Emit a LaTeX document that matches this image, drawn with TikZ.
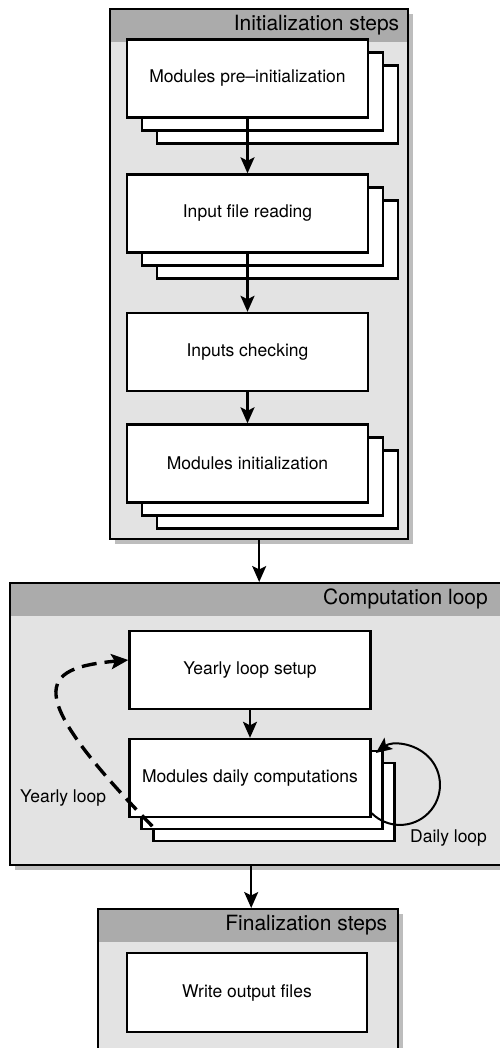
\documentclass[tikz,border=0pt]{standalone}
\usepackage{fontspec}
\setmainfont{TeX Gyre Heros}
\usetikzlibrary{arrows.meta,shadows}
\definecolor{headgray}{HTML}{ABABAB}
\definecolor{bodygray}{HTML}{E3E3E3}
\definecolor{shadowgray}{HTML}{BDBDBD}
\tikzset{
  container/.style={draw=black, line width=2.4pt, fill=bodygray, inner sep=0pt,
    anchor=north west,
    drop shadow={shadow xshift=5pt, shadow yshift=-5pt, fill=shadowgray, opacity=1},
    path picture={\fill[headgray] (path picture bounding box.north west) rectangle ([yshift=-33pt]path picture bounding box.north east);}},
  headtitle/.style={anchor=east, inner sep=0pt, font=\fontsize{21}{25}\selectfont},
  procbox/.style={draw=black, line width=2.4pt, fill=white, inner sep=0pt,
    minimum width=241pt, minimum height=78pt, font=\fontsize{17.5}{21}\selectfont},
  looplabel/.style={inner sep=0pt, font=\fontsize{17.5}{21}\selectfont},
  flow/.style={line width=2.2pt, -{Stealth[length=16pt,width=14pt,inset=3.5pt]}},
  yearflow/.style={line width=3.4pt, dash pattern=on 15pt off 8pt, -{Stealth[length=17pt,width=15pt,inset=3.5pt]}},
  dayflow/.style={line width=2pt, -{Stealth[length=16pt,width=14pt,inset=3.5pt]}}
}
\begin{document}
\begin{tikzpicture}[x=1pt,y=1pt]
\useasboundingbox (0,0) rectangle (499,-1048);

% containers
\node[container, minimum width=298pt, minimum height=530pt] (init) at (109,-8) {};
\node[headtitle] (inittitle) at ([xshift=-10pt,yshift=-17pt]init.north east) {Initialization steps};

\node[container, minimum width=496pt, minimum height=282pt] (comp) at (9,-582) {};
\node[headtitle] (comptitle) at (488,-599) {Computation loop};

\node[container, minimum width=300pt, minimum height=152pt] (final) at (97,-908) {};
\node[headtitle] (finaltitle) at ([xshift=-12pt,yshift=-17pt]final.north east) {Finalization steps};

% initialization boxes
\node[procbox] (b1c3) at (277.5,-104.5) {};
\node[procbox] (b1c2) at (262.5,-91.5) {};
\node[procbox] (b1) at (247.5,-78.5) {Modules pre\textendash initialization};

\node[procbox] (b2c3) at (277.5,-239.5) {};
\node[procbox] (b2c2) at (262.5,-226.5) {};
\node[procbox] (b2) at (247.5,-213.5) {Input file reading};

\node[procbox] (b3) at (247.5,-352) {Inputs checking};

\node[procbox] (b4c3) at (277.5,-489.5) {};
\node[procbox] (b4c2) at (262.5,-476.5) {};
\node[procbox] (b4) at (247.5,-463.5) {Modules initialization};

% computation boxes
\node[procbox] (yearly) at (250,-670) {Yearly loop setup};
\node[procbox] (dailyc3) at (274,-802) {};
\node[procbox] (dailyc2) at (262,-790) {};
\node[procbox] (daily) at (250,-778) {Modules daily computations};

% finalization box
\node[procbox, minimum width=240pt, minimum height=79pt] (write) at (247,-992.5) {Write output files};

% labels
\node[looplabel, anchor=west] (ylabel) at (20,-798) {Yearly loop};
\node[looplabel, anchor=west] (dlabel) at (410,-838) {Daily loop};

% connectors
\draw[flow] (b1.south) -- (b2.north);
\draw[flow] (b2.south) -- (b3.north);
\draw[flow] (b3.south) -- (b4.north);
\draw[flow] (init.south) -- (init.south |- comp.north);
\draw[flow] (yearly.south) -- (daily.south |- daily.north);
\draw[flow] ([xshift=3pt]final.north |- comp.south) -- ([xshift=3pt]final.north);

\draw[dayflow] ([yshift=5pt]daily.south east) arc[start angle=225, end angle=487, radius=40pt];
\draw[yearflow] ([shift={(24pt,-8pt)}]daily.south west) .. controls (20,-690) and (40,-668) .. ([yshift=10pt]yearly.west);
\end{tikzpicture}
\end{document}
